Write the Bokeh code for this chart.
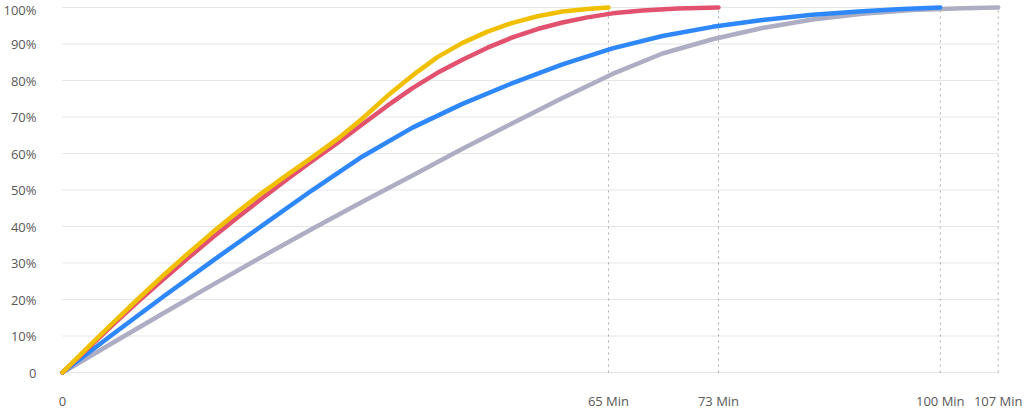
from bokeh.plotting import figure
from bokeh.models import FixedTicker, Range1d
from bokeh.embed import file_html
from bokeh.resources import INLINE

# ---- data (x in axis units, y in percent) ----
x_tick_pos = [0, 65, 78.1, 104.5, 111.4]
x_tick_labels = ["0", "65 Min", "73 Min", "100 Min", "107 Min"]
y_ticks = [0, 10, 20, 30, 40, 50, 60, 70, 80, 90, 100]
y_tick_labels = ["0", "10%", "20%", "30%", "40%", "50%", "60%", "70%", "80%", "90%", "100%"]

yellow_x = [0, 2.98, 5.95, 8.93, 11.90, 14.88, 17.86, 20.83, 23.81, 26.79, 29.76, 32.74,
            35.71, 38.69, 41.67, 44.64, 47.62, 50.60, 53.57, 56.55, 59.52, 62.50, 65]
yellow_y = [0, 6.8, 13.5, 20, 26.4, 32.5, 38.4, 44, 49.3, 54.2, 59, 64,
            69.6, 75.8, 81.4, 86.4, 90.3, 93.4, 95.8, 97.6, 98.9, 99.6, 100]

red_x = [0, 2.98, 5.95, 8.93, 11.90, 14.88, 17.86, 20.83, 23.81, 26.79, 29.76, 32.74,
         35.71, 38.69, 41.67, 44.64, 47.62, 50.60, 53.57, 56.55, 59.52, 62.50, 65.48,
         69.05, 73.21, 78.1]
red_y = [0, 6.5, 13, 19.3, 25.3, 31.2, 37, 42.5, 47.8, 53, 58, 62.9,
         68, 73.1, 77.9, 82.1, 85.7, 89, 91.8, 94.1, 95.9, 97.3, 98.4,
         99.2, 99.7, 100]

blue_x = [0, 5.95, 11.90, 17.86, 23.81, 29.76, 35.71, 41.67, 47.62, 53.57, 59.52, 65.48,
          71.43, 77.38, 83.33, 89.29, 95.24, 100.0, 104.5]
blue_y = [0, 10.4, 20.6, 30.6, 40.3, 50, 59.2, 67.1, 73.6, 79.3, 84.4, 88.8,
          92.2, 94.7, 96.6, 98, 99, 99.6, 100]

grey_x = [0, 5.95, 11.90, 17.86, 23.81, 29.76, 35.71, 41.67, 47.62, 53.57, 59.52, 65.48,
          71.43, 77.38, 83.33, 89.29, 95.24, 101.19, 107.14, 111.4]
grey_y = [0, 8.1, 16.1, 24, 31.8, 39.4, 46.8, 54, 61.3, 68.3, 75.2, 81.8,
          87.4, 91.3, 94.4, 96.7, 98.3, 99.3, 99.8, 100]

series = [
    (grey_x, grey_y, "#adadc4"),
    (blue_x, blue_y, "#2f88fb"),
    (red_x, red_y, "#e2526f"),
    (yellow_x, yellow_y, "#f0c000"),
]

FONT = "Open Sans"
LABEL_COLOR = "#595959"

p = figure(
    frame_width=968, frame_height=375,
    output_backend="svg", toolbar_location=None,
    x_range=Range1d(-0.952, 114.29), y_range=Range1d(-0.82, 101.92),
    min_border_left=52, min_border_right=4, min_border_top=0, min_border_bottom=20,
)
p.outline_line_color = None
p.background_fill_color = "white"
p.border_fill_color = "white"
p.xgrid.visible = False
p.ygrid.visible = False

# horizontal grid lines (span from first to last x tick)
p.segment(x0=[x_tick_pos[0]] * len(y_ticks), y0=y_ticks,
          x1=[x_tick_pos[-1]] * len(y_ticks), y1=y_ticks,
          line_color="#e6e6e6", line_width=1)

# vertical dotted lines at the time ticks
vx = x_tick_pos[1:]
p.segment(x0=vx, y0=[0] * len(vx), x1=vx, y1=[100] * len(vx),
          line_color="#aaaaaa", line_width=1, line_dash="2 4")

for xs, ys, c in series:
    p.line(xs, ys, line_color=c, line_width=4.5, line_cap="round", line_join="round")

# axes
p.yaxis.ticker = FixedTicker(ticks=y_ticks)
p.yaxis.major_label_overrides = {t: l for t, l in zip(y_ticks, y_tick_labels)}
p.xaxis.ticker = FixedTicker(ticks=x_tick_pos)
p.xaxis.major_label_overrides = {t: l for t, l in zip(x_tick_pos, x_tick_labels)}

for ax in (p.xaxis, p.yaxis):
    ax.axis_line_color = None
    ax.major_tick_line_color = None
    ax.minor_tick_line_color = None
    ax.major_tick_out = 0
    ax.major_tick_in = 0
    ax.major_label_text_font = FONT
    ax.major_label_text_font_size = "13px"
    ax.major_label_text_color = LABEL_COLOR

p.yaxis.major_label_standoff = 18
p.xaxis.major_label_standoff = 16

open("out.html", "w").write(file_html(p, INLINE))
